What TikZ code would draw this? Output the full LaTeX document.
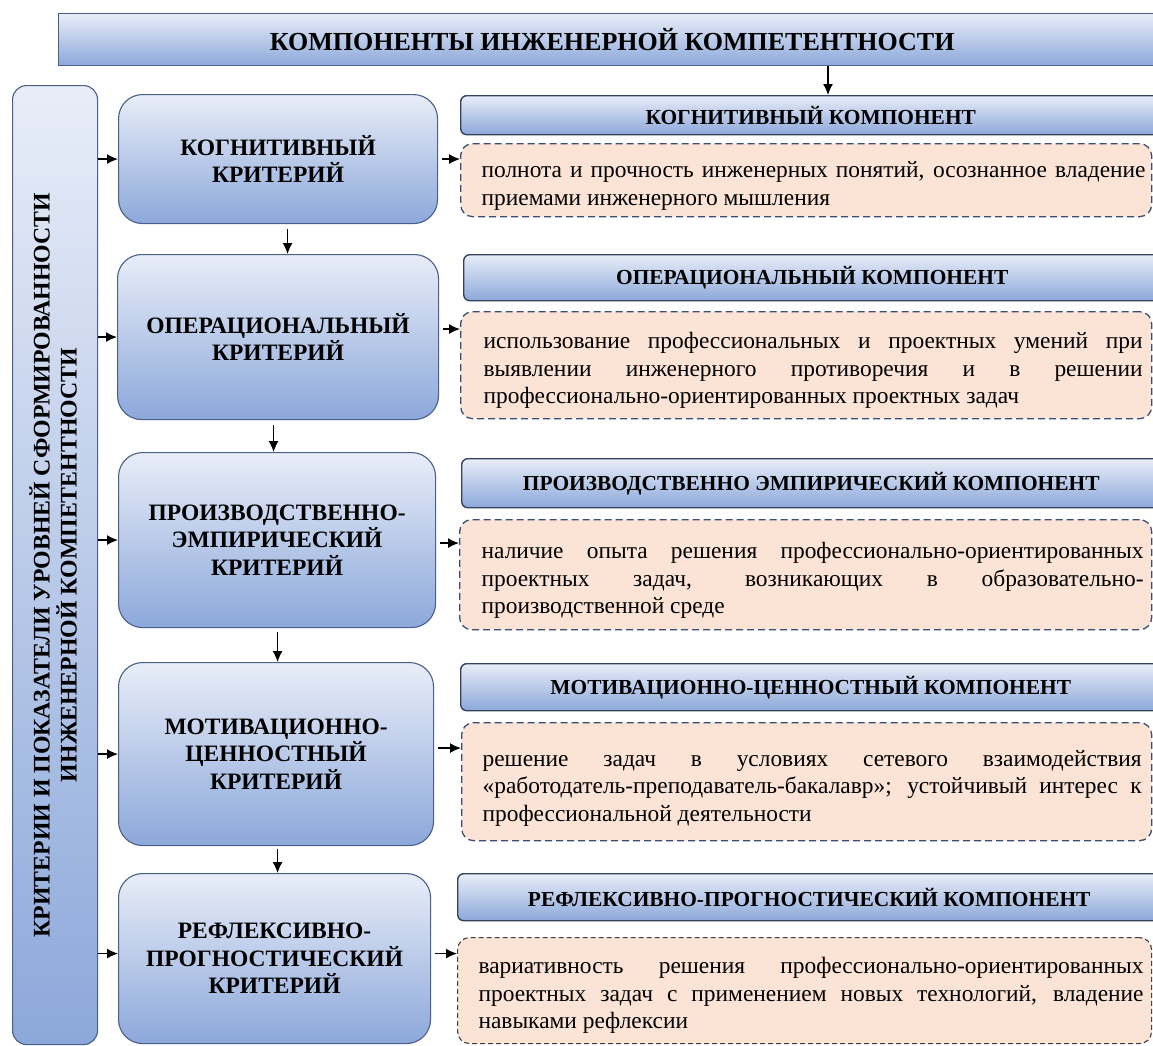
\documentclass[tikz,border=0pt]{standalone}
\usepackage{fontspec}
\setmainfont{Liberation Serif}
\usetikzlibrary{arrows.meta}
\definecolor{gtop}{HTML}{E8EDF8}
\definecolor{gbot}{HTML}{8CA8DA}
\definecolor{bline}{HTML}{4A6088}
\definecolor{hline}{HTML}{34425E}
\definecolor{peach}{HTML}{FBE3D6}
\definecolor{dashc}{HTML}{3A4E72}
\newlength\dtw
\newlength\dind
\newcommand\jl[1]{\hspace*{\dind}{\spaceskip=0pt\xspaceskip=0pt\makebox[\dtw][s]{#1}}}
\newcommand\lastl[1]{\hspace*{\dind}{\spaceskip=0pt\xspaceskip=0pt #1}}
\newcommand\tstrut[1]{\rule{0pt}{#1}}
\begin{document}
\begin{tikzpicture}[x=1pt,y=-1pt,
  sz/.style 2 args={minimum width=#1, minimum height=#2},
  gradbox/.style={top color=gtop, bottom color=gbot, inner sep=0pt, anchor=north west},
  crit/.style={gradbox, draw=bline, line width=1.1pt, rounded corners=24pt, align=center,
    font=\bfseries\fontsize{23.5}{27.5}\selectfont},
  hdr/.style={gradbox, draw=hline, line width=1.4pt, rounded corners=6pt,
    font=\bfseries\fontsize{21.4}{24}\selectfont},
  ttl/.style={gradbox, draw=bline, line width=1.3pt,
    font=\bfseries\fontsize{26}{30}\selectfont},
  lbox/.style={gradbox, draw=bline, line width=1.1pt, rounded corners=14pt},
  desc/.style={draw=dashc, line width=1.3pt, dash pattern=on 7pt off 4pt, rounded corners=12pt,
    fill=peach, inner sep=0pt, anchor=north west, text width=#1, align=justify,
    font=\fontsize{23.4}{27.6}\selectfont},
  arr/.style={-{Latex[length=11pt,width=10pt]}, line width=1.3pt, black},
]
\path[use as bounding box, clip] (0,0) rectangle (1153,1045);
\fill[white] (0,0) rectangle (1153,1045);

% title
\node[ttl, sz={1107}{52}] (T) at (58,13) {КОМПОНЕНТЫ ИНЖЕНЕРНОЙ КОМПЕТЕНТНОСТИ};

% left box
\node[lbox, sz={85}{959}] (L) at (12,85) {};
\node[rotate=90, align=center, font=\bfseries\fontsize{23.8}{27}\selectfont] (Lt) at ([xshift=-2pt]L.center)
  {КРИТЕРИИ И ПОКАЗАТЕЛИ УРОВНЕЙ СФОРМИРОВАННОСТИ\\ИНЖЕНЕРНОЙ КОМПЕТЕНТНОСТИ};

% criteria
\node[crit, sz={319}{129}] (c1) at (118,94) {КОГНИТИВНЫЙ\\КРИТЕРИЙ};
\node[crit, sz={321}{165}] (c2) at (117,254) {ОПЕРАЦИОНАЛЬНЫЙ\\КРИТЕРИЙ};
\node[crit, sz={317}{175}] (c3) at (118,452) {ПРОИЗВОДСТВЕННО-\\ЭМПИРИЧЕСКИЙ\\КРИТЕРИЙ};
\node[crit, sz={315}{183}] (c4) at (118,662) {МОТИВАЦИОННО-\\ЦЕННОСТНЫЙ\\КРИТЕРИЙ};
\node[crit, sz={312}{170}] (c5) at (118,873) {РЕФЛЕКСИВНО-\\ПРОГНОСТИЧЕСКИЙ\\КРИТЕРИЙ};

% headers
\node[hdr, sz={700}{39}] (h1) at (460,95) {КОГНИТИВНЫЙ КОМПОНЕНТ};
\node[hdr, sz={697}{46}] (h2) at (463,254) {ОПЕРАЦИОНАЛЬНЫЙ КОМПОНЕНТ};
\node[hdr, sz={699}{49}] (h3) at (461,458) {ПРОИЗВОДСТВЕННО ЭМПИРИЧЕСКИЙ КОМПОНЕНТ};
\node[hdr, sz={700}{47}] (h4) at (460,663) {МОТИВАЦИОННО-ЦЕННОСТНЫЙ КОМПОНЕНТ};
\node[hdr, sz={703}{47}] (h5) at (457,873) {РЕФЛЕКСИВНО-ПРОГНОСТИЧЕСКИЙ КОМПОНЕНТ};

% descriptions
\node[desc=691pt, sz={691}{73}] (d1) at (460,143)
 {\setlength\dind{21pt}\setlength\dtw{664pt}%
  \jl{\tstrut{28pt}полнота и прочность инженерных понятий, осознанное владение}\\
  \lastl{приемами инженерного мышления}};
\node[desc=691pt, sz={691}{107}] (d2) at (460,311)
 {\setlength\dind{23pt}\setlength\dtw{659pt}%
  \jl{\tstrut{27pt}использование профессиональных и проектных умений при}\\
  \jl{выявлении инженерного противоречия и в решении}\\
  \lastl{профессионально-ориентированных проектных задач}};
\node[desc=692pt, sz={692}{110}] (d3) at (459,519)
 {\setlength\dind{22pt}\setlength\dtw{662pt}%
  \jl{\tstrut{28pt}наличие опыта решения профессионально-ориентированных}\\
  \jl{проектных задач, возникающих в образовательно-}\\
  \lastl{производственной среде}};
\node[desc=690pt, sz={690}{118}] (d4) at (461,722)
 {\setlength\dind{21pt}\setlength\dtw{659pt}%
  \jl{\tstrut{29pt}решение задач в условиях сетевого взаимодействия}\\
  \jl{«работодатель-преподаватель-бакалавр»; устойчивый интерес к}\\
  \lastl{профессиональной деятельности}};
\node[desc=694pt, sz={694}{106}, draw=black!75, dash pattern=on 5pt off 3pt, line width=1.1pt] (d5) at (457,937)
 {\setlength\dind{21pt}\setlength\dtw{665pt}%
  \jl{\tstrut{26pt}вариативность решения профессионально-ориентированных}\\
  \jl{проектных задач с применением новых технологий, владение}\\
  \lastl{навыками рефлексии}};

% title arrow
\coordinate (ta) at (828,0);
\draw[arr] (T.south -| ta) -- (h1.north -| ta);

% left arrows
\draw[arr] (L.east |- c1.west) -- (c1.west);
\draw[arr] (L.east |- c2.west) -- (c2.west);
\draw[arr] (L.east |- c3.west) -- (c3.west);
\draw[arr] (L.east |- c4.west) -- (c4.west);
\coordinate (l5) at ([yshift=5pt]c5.west);
\draw[arr] (L.east |- l5) -- (l5);

% right arrows
\coordinate (r1) at (c1.east);
\coordinate (r2) at ([yshift=8pt]c2.east);
\coordinate (r3) at ([yshift=-3pt]c3.east);
\coordinate (r4) at ([yshift=6pt]c4.east);
\coordinate (r5) at ([yshift=5pt]c5.east);
\draw[arr, shorten <=4pt] (r1) -- (r1 -| d1.west);
\draw[arr, shorten <=4pt] (r2) -- (r2 -| d2.west);
\draw[arr, shorten <=4pt] (r3) -- (r3 -| d3.west);
\draw[arr, shorten <=4pt] (r4) -- (r4 -| d4.west);
\draw[arr, shorten <=4pt] (r5) -- (r5 -| d5.west);

% down arrows
\coordinate (v1) at ([xshift=9.5pt]c1.south);
\coordinate (v2) at ([xshift=-4.5pt]c2.south);
\coordinate (v3) at ([xshift=0.5pt]c3.south);
\coordinate (v4) at ([xshift=1.5pt]c4.south);
\draw[arr, shorten <=5pt] (v1) -- (v1 |- c2.north);
\draw[arr, shorten <=5pt] (v2) -- (v2 |- c3.north);
\draw[arr, shorten <=4pt] (v3) -- (v3 |- c4.north);
\draw[arr, shorten <=3pt] (v4) -- (v4 |- c5.north);
\end{tikzpicture}
\end{document}
